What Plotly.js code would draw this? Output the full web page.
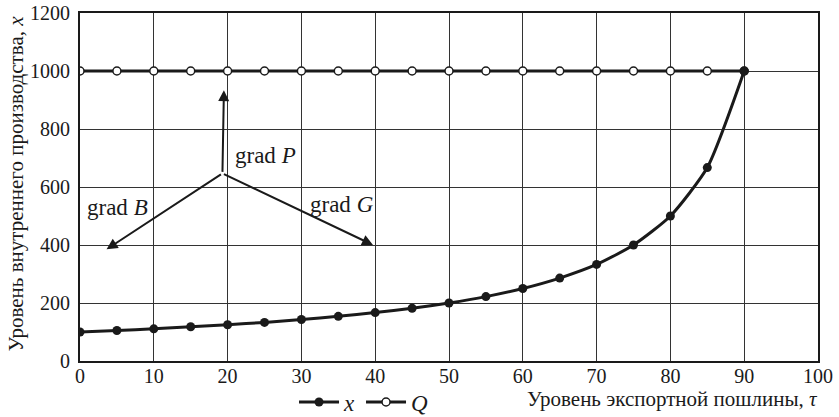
<!DOCTYPE html>
<html><head><meta charset="utf-8">
<script src="https://cdn.plot.ly/plotly-3.0.1.min.js"></script>
<style>html,body{margin:0;padding:0;background:#fff}#c{width:839px;height:417px}</style>
</head><body><div id="c"></div>
<script>
var tau = [0,5,10,15,20,25,30,35,40,45,50,55,60,65,70,75,80,85,90];
var xVals = [100,105,111,118,125,133,143,154,167,182,200,222,250,286,333,400,500,667,1000];
var qTau = [0,5,10,15,20,25,30,35,40,45,50,55,60,65,70,75,80,85,90];
var qVals = [1000,1000,1000,1000,1000,1000,1000,1000,1000,1000,1000,1000,1000,1000,1000,1000,1000,1000,1000];
var xTicks = [0,10,20,30,40,50,60,70,80,90,100];
var yTicks = [0,200,400,600,800,1000,1200];
var gradOrigin = [19.3, 647];
var gradP = [19.5, 934];
var gradB = [3.6, 385];
var gradG = [39.7, 400];

var F = '"Liberation Serif"';
var traces = [
  {x: qTau, y: qVals, name: '<i>Q</i>', mode: 'lines+markers',
   line: {color: '#1a1a1a', width: 3},
   marker: {symbol: 'circle', size: 8, color: '#fff', line: {color: '#1a1a1a', width: 1.5}}},
  {x: tau, y: xVals, name: '<i>x</i>', mode: 'lines+markers',
   line: {color: '#1a1a1a', width: 3, shape: 'spline', smoothing: 0.6},
   marker: {symbol: 'circle', size: 9, color: '#1a1a1a'}}
];

function arrow(tip) {
  return {x: tip[0], y: tip[1], ax: gradOrigin[0], ay: gradOrigin[1],
    xref: 'x', yref: 'y', axref: 'x', ayref: 'y', text: '', showarrow: true,
    arrowhead: 2, arrowsize: 1.1, arrowwidth: 2, arrowcolor: '#1a1a1a'};
}
var anns = [
  arrow(gradP), arrow(gradB), arrow(gradG),
  {x: 20.7, y: 710, xref: 'x', yref: 'y', text: 'grad <i>P</i>', showarrow: false, xanchor: 'left', yanchor: 'middle', font: {family: F, size: 23, color: '#1a1a1a'}},
  {x: 0.7, y: 531, xref: 'x', yref: 'y', text: 'grad <i>B</i>', showarrow: false, xanchor: 'left', yanchor: 'middle', font: {family: F, size: 23, color: '#1a1a1a'}},
  {x: 30.9, y: 538, xref: 'x', yref: 'y', text: 'grad <i>G</i>', showarrow: false, xanchor: 'left', yanchor: 'middle', font: {family: F, size: 23, color: '#1a1a1a'}},
  {x: 1.003, y: -0.11, xref: 'paper', yref: 'paper', xanchor: 'right', yanchor: 'middle', showarrow: false,
   text: 'Уровень экспортной пошлины, <i>τ</i>', font: {family: F, size: 21, color: '#1a1a1a'}},
  {x: -0.088, y: 0.51, xref: 'paper', yref: 'paper', xanchor: 'center', yanchor: 'middle', showarrow: false, textangle: -90,
   text: 'Уровень внутреннего производства, <i>x</i>', font: {family: F, size: 21, color: '#1a1a1a'}}
];

var layout = {
  width: 839, height: 417,
  margin: {l: 80, r: 21, t: 13, b: 56, autoexpand: false},
  paper_bgcolor: '#fff', plot_bgcolor: '#fff',
  font: {family: F, color: '#1a1a1a', size: 19},
  showlegend: true,
  legend: {orientation: 'h', x: 0.29, y: -0.118, xanchor: 'left', yanchor: 'middle',
    font: {family: F, size: 23, color: '#1a1a1a'}, traceorder: 'reversed', itemwidth: 40, bgcolor: 'rgba(0,0,0,0)'},
  xaxis: {range: [0, 100], tickvals: xTicks, ticktext: xTicks.map(String), showgrid: true, gridcolor: '#333', gridwidth: 1,
    showline: true, linecolor: '#1a1a1a', linewidth: 2, mirror: true, zeroline: false, ticks: '', ticklabelstandoff: -4,
    tickfont: {family: F, size: 20, color: '#1a1a1a'}},
  yaxis: {range: [0, 1200], tickvals: yTicks, ticktext: yTicks.map(String), showgrid: true, gridcolor: '#333', gridwidth: 1,
    showline: true, linecolor: '#1a1a1a', linewidth: 2, mirror: true, zeroline: false, ticks: '', ticklabelstandoff: 4,
    tickfont: {family: F, size: 20, color: '#1a1a1a'}},
  annotations: anns
};
Plotly.newPlot('c', traces, layout, {displayModeBar: false, staticPlot: true});
</script></body></html>
